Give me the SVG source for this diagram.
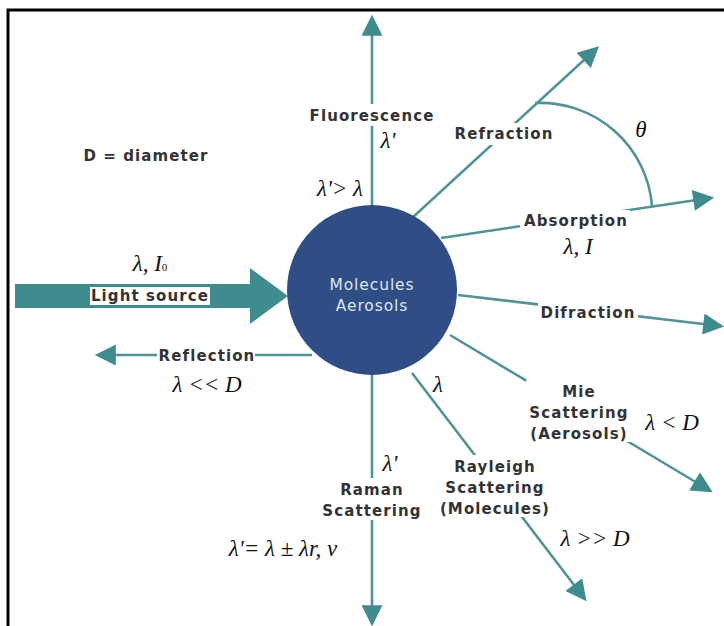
<svg xmlns="http://www.w3.org/2000/svg" width="724" height="626" viewBox="0 0 724 626">
<defs>
<style>
.ln{stroke:#4f9496;stroke-width:2.6;fill:none}
.bg{fill:#ffffff}
.lb{font-family:"DejaVu Sans",Verdana,sans-serif;font-weight:bold;font-size:15px;letter-spacing:1.1px;fill:#333333;text-anchor:middle}
.m{font-family:"Liberation Serif","Times New Roman",serif;font-style:italic;font-size:23px;fill:#111111;text-anchor:middle}
.ct{font-family:"DejaVu Sans",Verdana,sans-serif;font-size:15.5px;letter-spacing:0.9px;fill:#dfe5f0;text-anchor:middle}
</style>
<marker id="ah" viewBox="0 0 10 10" refX="8" refY="5" markerUnits="userSpaceOnUse" markerWidth="27" markerHeight="21" orient="auto">
<path d="M0,0 L10,5 L0,10 z" fill="#3f8c8e"/>
</marker>
</defs>
<rect x="8" y="10" width="730" height="630" fill="none" stroke="#000" stroke-width="3"/>
<g id="connectors">
<line class="ln" x1="372" y1="205" x2="372" y2="19" marker-end="url(#ah)"/>
<line class="ln" x1="372" y1="375" x2="372" y2="622" marker-end="url(#ah)"/>
<line class="ln" x1="412" y1="218" x2="596" y2="49" marker-end="url(#ah)"/>
<line class="ln" x1="441" y1="238" x2="710" y2="198" marker-end="url(#ah)"/>
<line class="ln" x1="458" y1="295" x2="720" y2="326" marker-end="url(#ah)"/>
<line class="ln" x1="450" y1="335" x2="709" y2="490" marker-end="url(#ah)"/>
<line class="ln" x1="412" y1="373" x2="584" y2="598" marker-end="url(#ah)"/>
<line class="ln" x1="312" y1="355" x2="99" y2="355" marker-end="url(#ah)"/>
<path class="ln" d="M535,103 A112,112 0 0 1 652,206"/>
<g id="light-source-arrow">
<rect x="15" y="284" width="236" height="24" fill="#3f8c8e"/>
<polygon points="250,268 288,296 250,324" fill="#3f8c8e"/>
</g>
</g>
<g id="center">
<circle cx="372" cy="290" r="85" fill="#2f4e86"/>
<text class="ct" x="372" y="290">Molecules</text>
<text class="ct" x="372" y="311">Aerosols</text>
</g>
<g id="light-source">
<rect class="bg" x="90" y="287" width="120" height="18"/>
<text class="lb" x="150" y="301">Light source</text>
<text class="m" x="150" y="271">λ, I<tspan font-size="11" font-style="normal">0</tspan></text>
</g>
<g id="legend">
<text class="lb" x="146" y="161">D = diameter</text>
</g>
<g id="fluorescence">
<rect class="bg" x="308" y="104" width="128" height="22"/>
<text class="lb" x="372" y="121">Fluorescence</text>
<text class="m" x="388" y="148">λ'</text>
<text class="m" x="340" y="196">λ'&gt; λ</text>
</g>
<g id="refraction">
<rect class="bg" x="452" y="123" width="104" height="22"/>
<text class="lb" x="504" y="139">Refraction</text>
<text class="m" x="641" y="137">θ</text>
</g>
<g id="absorption">
<rect class="bg" x="520" y="210" width="110" height="22"/>
<text class="lb" x="576" y="226">Absorption</text>
<text class="m" x="578" y="254">λ, I</text>
</g>
<g id="difraction">
<rect class="bg" x="538" y="302" width="100" height="20"/>
<text class="lb" x="588" y="318">Difraction</text>
</g>
<g id="mie">
<rect class="bg" x="526" y="380" width="106" height="62"/>
<text class="lb" x="579" y="397">Mie</text>
<text class="lb" x="579" y="418">Scattering</text>
<text class="lb" x="579" y="439">(Aerosols)</text>
<text class="m" x="672" y="430">λ &lt; D</text>
</g>
<g id="rayleigh">
<rect class="bg" x="440" y="455" width="112" height="62"/>
<text class="lb" x="495" y="472">Rayleigh</text>
<text class="lb" x="495" y="493">Scattering</text>
<text class="lb" x="495" y="514">(Molecules)</text>
<text class="m" x="595" y="546">λ &gt;&gt; D</text>
<text class="m" x="438" y="392">λ</text>
</g>
<g id="raman">
<rect class="bg" x="330" y="478" width="86" height="42"/>
<text class="m" x="390" y="471">λ'</text>
<text class="lb" x="372" y="495">Raman</text>
<text class="lb" x="372" y="516">Scattering</text>
<text class="m" x="283" y="556">λ'= λ ± λr, ν</text>
</g>
<g id="reflection">
<rect class="bg" x="157" y="346" width="98" height="20"/>
<text class="lb" x="207" y="361">Reflection</text>
<text class="m" x="207" y="392">λ &lt;&lt; D</text>
</g>
</svg>
